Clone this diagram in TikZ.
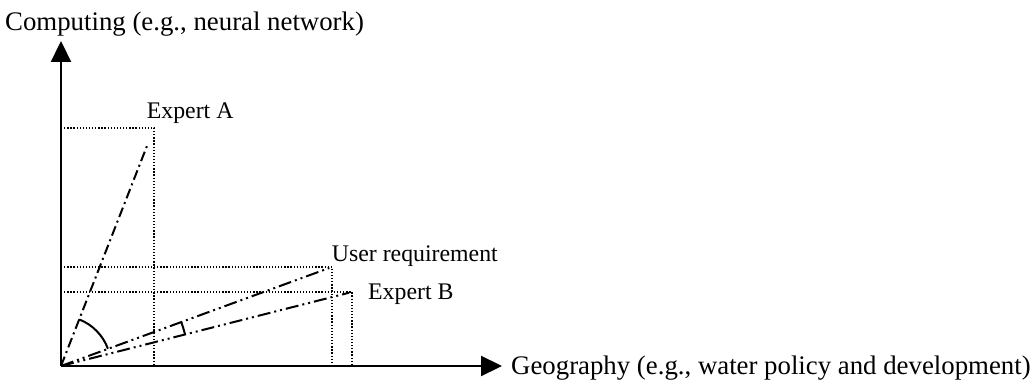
\documentclass[tikz,border=0pt]{standalone}
\usepackage{fontspec}
\setmainfont{Liberation Serif}
\usetikzlibrary{arrows.meta,calc}
\begin{document}
\begin{tikzpicture}[x=1pt,y=1pt,
  axisline/.style={line width=2.2pt,-{Triangle[length=21pt,width=20pt]}},
  guide/.style={line width=1.4pt,dash pattern=on 1.3pt off 1.8pt},
  vecA/.style={line width=2pt,dash pattern=on 10pt off 4pt on 2pt off 4pt},
  vecB/.style={line width=2pt,dash pattern=on 13pt off 4pt on 2pt off 4pt on 2pt off 4pt},
  anglearc/.style={line width=2pt},
  axislabel/.style={anchor=base west,inner sep=0pt,font=\fontsize{26.8}{32}\selectfont},
  ptlabel/.style={anchor=base west,inner sep=0pt,font=\fontsize{23.8}{28}\selectfont}]
\useasboundingbox (0,0) rectangle (1032,383);

% axes
\coordinate (O) at (61,17);
\coordinate (ytip) at (61,342);
\coordinate (xtip) at (502,17);
\draw[axisline] (O) -- (ytip);
\draw[axisline] (O) -- (xtip);

% points
\coordinate (Apt) at (154,255);
\coordinate (Upt) at (332,116);
\coordinate (Bpt) at (352,91);

% projections onto the axes
\draw[guide] (O |- Apt) -- (Apt) -- (Apt |- O);
\draw[guide] (O |- Upt) -- (Upt) -- (Upt |- O);
\draw[guide] (O |- Bpt) -- (Bpt) -- (Bpt |- O);

% vectors
\coordinate (Aend) at ($(O)!0.925!(Apt)$);
\coordinate (Uend) at ($(O)!0.99!(Upt)$);
\coordinate (Bend) at ($(O)!0.99!(Bpt)$);
\draw[vecA] (O) -- (Aend);
\draw[vecB] (O) -- (Uend);
\draw[vecB] (O) -- (Bend);

% angles between the vectors
\draw[anglearc] ($(O)+(68.6:50)$) arc[start angle=68.6,end angle=20.2,radius=50];
\draw[anglearc] ($(O)+(20.2:128)$) arc[start angle=20.2,end angle=14.4,radius=128];

% labels
\node[axislabel] (ylab) at (5,352) {Computing (e.g., neural network)};
\node[axislabel] (xlab) at (511,9) {Geography (e.g., water policy and development)};
\node[ptlabel] (Alab) at (146.7,264) {Expert A};
\node[ptlabel] (Ulab) at (331.7,122) {User requirement};
\node[ptlabel] (Blab) at (368,84) {Expert B};
\end{tikzpicture}
\end{document}
